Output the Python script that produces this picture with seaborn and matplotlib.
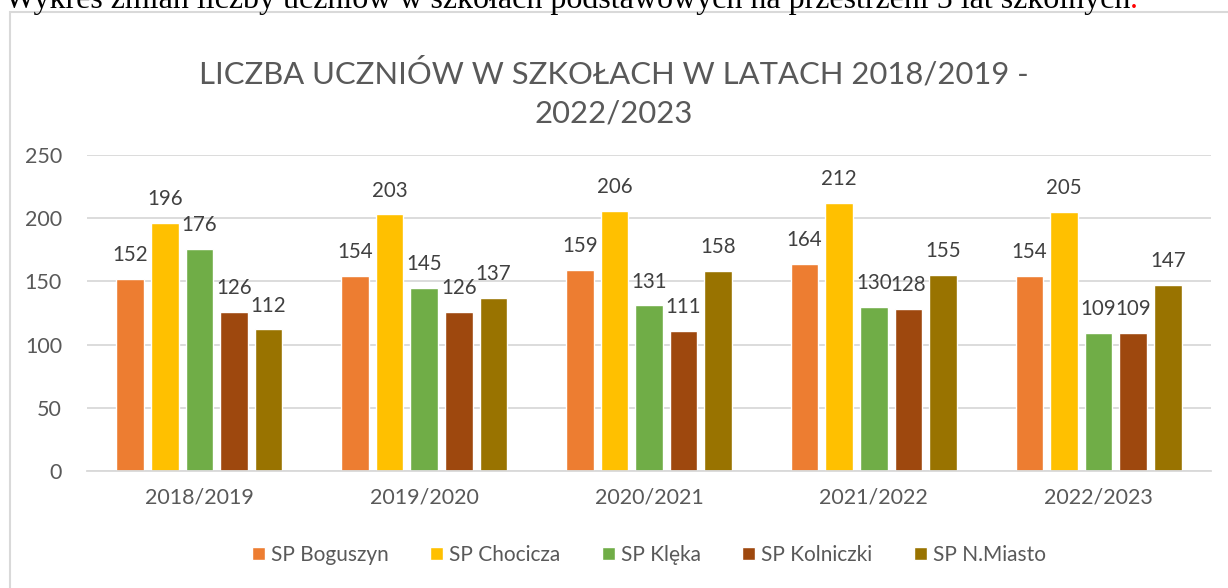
import pandas as pd
import matplotlib.pyplot as plt
import seaborn as sns
from matplotlib.patches import Rectangle

# --- data ---
years = ['2018/2019', '2019/2020', '2020/2021', '2021/2022', '2022/2023']
schools = ['SP Boguszyn', 'SP Chocicza', 'SP Klęka', 'SP Kolniczki', 'SP N.Miasto']
boguszyn = [152, 154, 159, 164, 154]
chocicza = [196, 203, 206, 212, 205]
kleka = [176, 145, 131, 130, 109]
kolniczki = [126, 126, 111, 128, 109]
nmiasto = [112, 137, 158, 155, 147]

colors = ['#ED7D31', '#FFC000', '#70AD47', '#9E480E', '#997300']

rows = []
for school, vals in zip(schools, [boguszyn, chocicza, kleka, kolniczki, nmiasto]):
    for y, v in zip(years, vals):
        rows.append({'Rok': y, 'Szkoła': school, 'Liczba': v})
df = pd.DataFrame(rows)

sns.set_theme(style="white")
plt.rcParams['font.family'] = ['Lato', 'DejaVu Sans']

fig = plt.figure(figsize=(12.28, 5.88), dpi=100)
ax = fig.add_axes([87 / 1228, 1 - 471 / 588, (1211 - 87) / 1228, (471 - 155) / 588])

sns.barplot(data=df, x='Rok', y='Liczba', hue='Szkoła', palette=colors,
            saturation=1, width=0.77, gap=0.2, ax=ax, legend=True)

ax.set_ylim(0, 250)
ax.set_yticks(range(0, 251, 50))
ax.yaxis.grid(True, color='#D9D9D9', linewidth=1.3)
ax.set_axisbelow(True)
for s in ['top', 'right', 'left']:
    ax.spines[s].set_visible(False)
ax.spines['bottom'].set_color('#D9D9D9')
ax.spines['bottom'].set_linewidth(1.3)
ax.set_xlabel('')
ax.set_ylabel('')
ax.tick_params(axis='both', length=0, labelsize=15.5, colors='#595959')
ax.tick_params(axis='y', pad=18)
ax.tick_params(axis='x', pad=12)

for c in ax.containers:
    ax.bar_label(c, fontsize=14.8, color='#404040', padding=10)

ax.legend(loc='upper center', bbox_to_anchor=(0.5, -0.175), ncol=5, frameon=False,
          fontsize=15, labelcolor='#595959', handlelength=0.6, handleheight=0.6,
          handletextpad=0.3, columnspacing=2.0)

fig.text(0.5, 1 - 73 / 588, 'LICZBA UCZNIÓW W SZKOŁACH W LATACH 2018/2019 -',
         ha='center', va='center', fontsize=22.3, color='#595959')
fig.text(0.5, 1 - 113 / 588, '2022/2023',
         ha='center', va='center', fontsize=22.3, color='#595959')

# chart frame (only top and left edges visible in the crop)
fig.patches.append(Rectangle((10 / 1228, -0.1), 1.2, 1 - 12 / 588 + 0.1,
                             transform=fig.transFigure, fill=False,
                             edgecolor='#D9D9D9', linewidth=1.5))

# document sentence above the chart, cut off at the top
t = fig.text(5 / 1228, 1 - 8 / 588,
             'Wykres zmian liczby uczniów w szkołach podstawowych na przestrzeni 5 lat szkolnych',
             ha='left', va='baseline', fontsize=23, color='black', family='Liberation Serif')
fig.canvas.draw()
bb = t.get_window_extent()
fig.text(bb.x1 / fig.bbox.width, 1 - 8 / 588, '.', ha='left', va='baseline',
         fontsize=23, color='red', family='Liberation Serif')

fig.savefig('out.png', dpi=100)
